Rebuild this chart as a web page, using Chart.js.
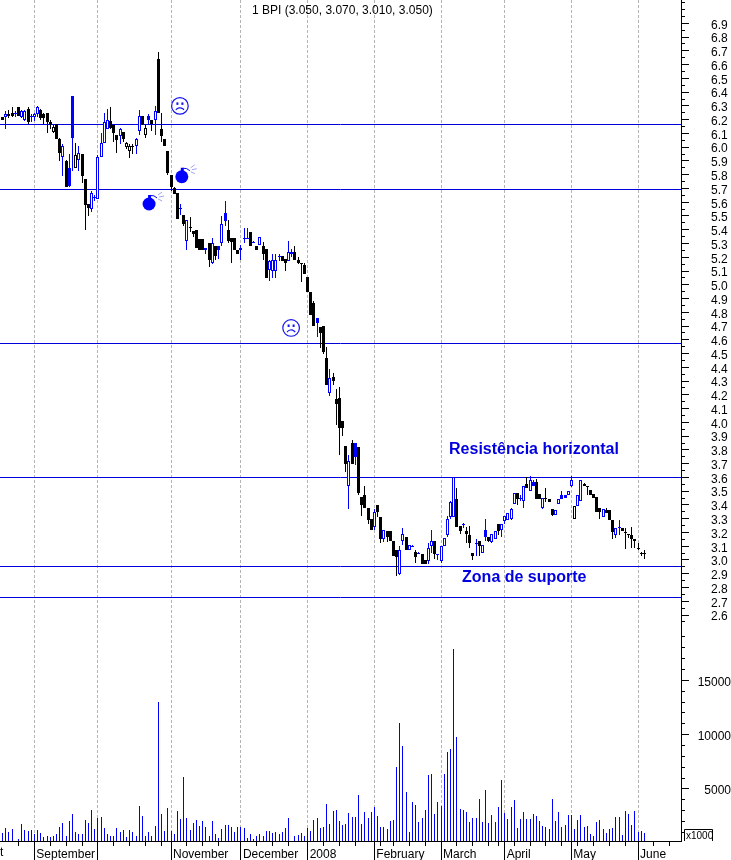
<!DOCTYPE html>
<html>
<head>
<meta charset="utf-8">
<title>BPI</title>
<script src="https://cdn.jsdelivr.net/npm/chart.js@4"></script>
<style>html,body{margin:0;padding:0;background:#fff}canvas{display:block}</style>
</head>
<body>
<canvas id="c" width="731" height="860"></canvas>
<script>
const titleText = '1 BPI (3.050, 3.070, 3.010, 3.050)';
const opens = [6.22,6.22,6.24,6.25,6.24,6.29,6.22,6.20,6.28,6.22,6.22,6.24,6.27,6.24,6.25,6.18,6.11,6.17,6.06,5.93,
5.90,5.85,6.37,5.85,5.91,5.95,5.77,5.59,5.55,5.63,5.62,5.93,6.03,6.13,6.19,6.16,6.09,6.08,6.11,6.00,
5.97,6.00,6.01,6.12,6.23,6.09,6.23,6.20,6.20,6.64,6.13,6.06,5.97,5.80,5.70,5.67,5.55,5.51,5.32,5.42,
5.39,5.40,5.33,5.33,5.25,5.30,5.16,5.28,5.28,5.30,5.52,5.40,5.34,5.34,5.25,5.25,5.33,5.34,5.38,5.31,
5.28,5.29,5.28,5.26,5.11,5.10,5.10,5.21,5.21,5.19,5.17,5.22,5.24,5.18,5.16,5.14,5.06,4.95,4.87,4.76,
4.69,4.70,4.47,4.21,4.33,4.17,4.18,4.01,3.83,3.54,3.85,3.85,3.82,3.46,3.47,3.38,3.30,3.24,3.40,3.31,
3.15,3.21,3.21,3.14,3.07,2.90,3.14,3.17,3.07,3.10,3.06,3.05,3.04,3.00,2.99,3.10,3.14,3.04,2.99,3.10,
3.18,3.31,3.31,3.44,3.25,3.26,3.21,3.18,3.05,3.12,3.14,3.05,3.22,3.17,3.13,3.15,3.26,3.22,3.28,3.29,
3.30,3.41,3.49,3.45,3.43,3.55,3.50,3.57,3.57,3.48,3.38,3.45,3.44,3.37,3.33,3.41,3.47,3.47,3.47,3.54,
3.30,3.39,3.43,3.55,3.54,3.51,3.48,3.46,3.38,3.31,3.36,3.36,3.29,3.18,3.24,3.23,3.20,3.19,3.18,3.15,
3.09,3.05,3.05];
const highs = [6.22,6.26,6.27,6.29,6.26,6.29,6.27,6.27,6.29,6.24,6.25,6.30,6.28,6.25,6.25,6.20,6.16,6.17,6.07,6.02,
5.91,5.95,6.37,6.03,6.01,5.95,5.77,5.59,5.68,5.65,5.94,6.10,6.25,6.28,6.29,6.16,6.09,6.14,6.11,6.04,
6.02,6.02,6.07,6.27,6.23,6.17,6.24,6.20,6.30,6.69,6.25,6.06,5.97,5.80,5.71,5.67,5.59,5.51,5.47,5.49,
5.39,5.40,5.33,5.33,5.27,5.30,5.34,5.28,5.28,5.50,5.61,5.47,5.34,5.34,5.25,5.29,5.41,5.41,5.38,5.32,
5.28,5.35,5.31,5.26,5.18,5.22,5.22,5.22,5.21,5.19,5.32,5.26,5.28,5.20,5.16,5.16,5.06,4.95,4.88,4.76,
4.69,4.70,4.55,4.39,4.36,4.24,4.26,4.01,3.83,3.76,3.87,3.85,3.82,3.46,3.54,3.38,3.30,3.37,3.40,3.31,
3.22,3.21,3.21,3.14,3.07,3.10,3.23,3.17,3.11,3.11,3.07,3.06,3.04,3.00,3.12,3.22,3.14,3.04,3.10,3.16,
3.32,3.43,3.60,3.52,3.25,3.27,3.24,3.25,3.05,3.15,3.14,3.11,3.30,3.17,3.19,3.21,3.26,3.26,3.32,3.34,
3.38,3.49,3.49,3.47,3.54,3.60,3.61,3.58,3.59,3.48,3.45,3.52,3.44,3.37,3.36,3.44,3.50,3.47,3.50,3.61,
3.39,3.47,3.58,3.56,3.54,3.51,3.48,3.46,3.38,3.37,3.38,3.36,3.29,3.23,3.29,3.23,3.23,3.19,3.24,3.15,
3.12,3.06,3.07];
const lows = [6.20,6.13,6.21,6.22,6.22,6.23,6.21,6.19,6.17,6.18,6.19,6.22,6.20,6.17,6.10,6.13,6.10,6.06,5.90,5.79,
5.71,5.71,5.83,5.85,5.83,5.74,5.40,5.50,5.53,5.61,5.62,5.93,6.03,6.13,6.13,6.04,5.96,6.02,6.04,5.99,
5.92,5.95,5.95,6.09,6.16,6.07,6.17,6.12,6.09,6.25,6.04,6.01,5.80,5.68,5.66,5.48,5.51,5.43,5.25,5.38,
5.35,5.27,5.25,5.25,5.22,5.13,5.15,5.18,5.19,5.28,5.43,5.30,5.16,5.25,5.22,5.18,5.30,5.33,5.28,5.30,
5.25,5.29,5.18,5.05,5.03,5.05,5.05,5.17,5.17,5.10,5.17,5.20,5.18,5.15,5.02,5.08,4.95,4.78,4.70,4.62,
4.54,4.50,4.27,4.19,4.27,3.98,3.76,3.90,3.64,3.37,3.70,3.69,3.47,3.32,3.38,3.26,3.22,3.22,3.31,3.12,
3.13,3.13,3.14,3.03,2.88,2.89,3.11,3.07,3.07,3.10,2.98,3.04,2.97,2.97,2.97,3.05,3.01,3.00,2.98,3.10,
3.17,3.30,3.31,3.24,3.19,3.23,3.12,3.09,3.00,3.03,3.03,3.05,3.14,3.13,3.12,3.15,3.18,3.17,3.26,3.29,
3.29,3.41,3.40,3.43,3.38,3.52,3.50,3.54,3.44,3.44,3.37,3.42,3.42,3.32,3.33,3.41,3.44,3.45,3.47,3.53,
3.30,3.39,3.43,3.54,3.47,3.47,3.45,3.35,3.30,3.31,3.34,3.29,3.15,3.16,3.18,3.21,3.08,3.16,3.09,3.09,
3.07,3.03,3.01];
const closes = [6.20,6.24,6.23,6.23,6.25,6.23,6.26,6.26,6.18,6.23,6.24,6.29,6.21,6.21,6.18,6.17,6.15,6.06,5.96,6.01,
5.71,5.72,6.07,5.94,5.96,5.79,5.58,5.56,5.67,5.64,5.93,6.03,6.18,6.20,6.14,6.10,6.05,6.13,6.06,6.03,
6.01,6.01,6.06,6.23,6.17,6.14,6.20,6.17,6.26,6.25,6.08,6.01,5.81,5.71,5.66,5.48,5.56,5.44,5.47,5.41,
5.37,5.27,5.25,5.25,5.27,5.18,5.30,5.21,5.25,5.44,5.46,5.32,5.31,5.25,5.22,5.27,5.34,5.34,5.28,5.31,
5.25,5.35,5.22,5.05,5.17,5.18,5.18,5.21,5.17,5.16,5.24,5.24,5.18,5.16,5.15,5.08,4.95,4.78,4.70,4.72,
4.65,4.51,4.27,4.32,4.30,4.13,3.96,3.96,3.70,3.72,3.70,3.75,3.49,3.40,3.38,3.29,3.22,3.35,3.35,3.15,
3.22,3.17,3.14,3.03,3.02,3.07,3.19,3.07,3.11,3.10,3.02,3.05,2.97,2.97,3.09,3.14,3.04,3.04,3.10,3.16,
3.30,3.42,3.60,3.24,3.21,3.26,3.19,3.12,3.03,3.12,3.10,3.11,3.17,3.14,3.19,3.21,3.21,3.26,3.32,3.34,
3.37,3.49,3.44,3.45,3.54,3.52,3.58,3.54,3.44,3.44,3.45,3.44,3.42,3.33,3.36,3.44,3.44,3.45,3.50,3.58,
3.39,3.47,3.58,3.54,3.53,3.47,3.45,3.35,3.35,3.37,3.34,3.29,3.20,3.23,3.23,3.21,3.20,3.18,3.15,3.14,
3.08,3.05,3.05];
const upDays = [0,1,0,0,1,0,1,1,0,1,1,1,0,0,0,0,0,0,0,1,
0,1,1,0,1,0,0,0,1,1,1,1,1,1,0,0,0,1,0,0,
0,0,1,1,0,0,1,0,1,0,0,0,0,0,0,0,1,0,1,0,
0,0,0,0,1,0,1,0,1,1,1,0,0,0,0,1,1,1,0,1,
0,1,0,0,1,1,1,1,0,0,1,1,0,0,0,0,0,0,0,1,
0,0,0,1,0,0,0,0,0,1,0,1,0,0,0,0,0,1,0,0,
1,0,0,0,0,1,1,0,1,1,0,1,0,0,1,1,0,1,1,1,
1,1,1,0,0,1,0,0,0,1,0,1,1,0,1,1,0,1,1,1,
1,1,0,1,1,0,1,1,0,0,1,0,0,0,1,1,1,1,1,1,
0,1,1,0,0,0,0,0,0,1,0,0,0,1,1,0,0,0,0,0,
0,0,0];
const volumes = [930,1390,1020,1270,0,345,1730,1175,1080,1175,805,1175,930,560,620,560,650,805,1480,1820,
650,2035,2650,990,805,835,2130,1850,3020,1270,2310,2375,1360,805,650,650,1360,990,1175,530,
1175,990,650,3390,2465,650,990,650,1540,13000,2650,1080,3200,1080,805,2930,2190,6060,2280,1175,
1820,2100,1540,2005,1450,620,2005,805,435,1270,1635,1635,1450,990,1450,1450,1360,435,805,345,
620,805,620,1080,1080,900,990,805,990,1360,2280,0,620,715,900,620,1360,1080,2100,2280,
1360,1450,3570,1730,2930,3020,2005,1635,1730,2745,2375,2375,4400,1730,2835,
2310,2865,3360,2495,1480,1480,1300,2035,2130,7015,11075,8955,4710,1020,3790,3510,1945,2310,3050,6280,
6370,2680,3790,3420,6370,8400,8680,17900,9785,3140,3050,2865,1945,2310,2310,4065,1945,4895,1850,2590,
1945,3330,5820,2775,2220,3330,3975,1390,2220,2865,2220,2220,2680,2495,2035,1575,1480,1300,4065,2035,
2865,1480,1665,2590,2590,1300,2130,2590,1480,1575,835,650,1945,2130,1300,930,1300,1390,2405,2405,
745,2960,2680,1665,2960,1020,1115,930];

const slotCount = 214;
const monthTicks = [10,30,53,75,96,117,138,158,179,200];
const monthNames = ['September','','November','December','2008','February','March','April','May','June'];
const clippedLabel = 't';
const weekTicks = [5,15,20,25,35,40,45,50,58,63,68,80,85,90,101,106,111,119,123,128,133,143,148,153,156,161,166,171,176,181,186,191,196,205,210];
const priceLabels = [2.6,2.7,2.8,2.9,3.0,3.1,3.2,3.3,3.4,3.5,3.6,3.7,3.8,3.9,4.0,4.1,4.2,4.3,4.4,4.5,4.6,4.7,4.8,4.9,5.0,5.1,5.2,5.3,5.4,5.5,5.6,5.7,5.8,5.9,6.0,6.1,6.2,6.3,6.4,6.5,6.6,6.7,6.8,6.9];
const priceMinor = [2.55,2.65,2.75,2.85,2.95,3.05,3.15,3.25,3.35,3.45,3.55,3.65,3.75,3.85,3.95,4.05,4.15,4.25,4.35,4.45,4.55,4.65,4.75,4.85,4.95,5.05,5.15,5.25,5.35,5.45,5.55,5.65,5.75,5.85,5.95,6.05,6.15,6.25,6.35,6.45,6.55,6.65,6.75,6.85,6.95,7.0,7.05];
const volumeLabels = [5000,10000,15000];
const volumeMinor = [1000,2000,3000,4000,6000,7000,8000,9000,11000,12000,13000,14000,16000,17000,18000,19000];
const levels = [6.17,5.695,4.58,3.60,2.955,2.73];
const faces = [[55.8,6.30],[90.8,4.686]];
const bombs = [[56.4,5.785],[46.1,5.587]];
const notes = [['Resistência horizontal',3.80,140.5],['Zona de suporte',2.87,144.6]];

const BLUE = '#0000ff', BLACK = '#000000', LINE = '#0000dc', GRID = '#b4b4b4';
const FONT = "'Liberation Sans', Arial, sans-serif";
const labels = Array.from({length: slotCount}, (_, i) => {
  const m = monthTicks.indexOf(i);
  return m >= 0 ? monthNames[m] : '';
});
const candleColor = upDays.map(u => u ? BLUE : BLACK);
const bodyFill = closes.map((c, i) => c > opens[i] ? '#ffffff' : candleColor[i]);

const snapBars = {
  id: 'snapBars',
  afterDatasetsUpdate(chart) {
    chart.data.datasets.forEach((ds, d) => {
      chart.getDatasetMeta(d).data.forEach(el => {
        el.x = Math.floor(el.x) + 0.5;
        el.y = Math.round(el.y);
        el.base = Math.round(el.base);
        if (ds.label === 'Body' && el.y === el.base) el.base = el.y + 1;
      });
    });
  }
};

const decorations = {
  id: 'decorations',
  beforeDatasetsDraw(chart) {
    const {ctx, chartArea: a, scales: {x, y, v}} = chart;
    ctx.save();
    ctx.strokeStyle = LINE;
    ctx.lineWidth = 1;
    levels.forEach(l => {
      const py = Math.round(y.getPixelForValue(l)) + 0.5;
      ctx.beginPath(); ctx.moveTo(0, py); ctx.lineTo(a.right, py); ctx.stroke();
    });
    ctx.restore();
  },
  afterDatasetsDraw(chart) {
    const {ctx, chartArea: a, scales: {x, y, v}} = chart;
    ctx.save();
    ctx.strokeStyle = BLACK;
    ctx.lineWidth = 1;
    const hTick = (sc, val) => {
      const py = Math.floor(sc.getPixelForValue(val)) + 0.5;
      ctx.beginPath(); ctx.moveTo(a.right, py); ctx.lineTo(a.right + 4, py); ctx.stroke();
    };
    priceMinor.forEach(p => hTick(y, p));
    volumeMinor.forEach(p => hTick(v, p));
    monthTicks.forEach(i => {
      const px = Math.floor(x.getPixelForValue(i)) + 0.5;
      ctx.beginPath(); ctx.moveTo(px, a.bottom); ctx.lineTo(px, 860); ctx.stroke();
    });
    ctx.beginPath(); ctx.moveTo(0, a.bottom + 0.5); ctx.lineTo(a.left + 1, a.bottom + 0.5); ctx.stroke();
    // volume multiplier box
    ctx.beginPath();
    ctx.moveTo(684.5, a.bottom); ctx.lineTo(684.5, 829.5); ctx.lineTo(712.5, 829.5); ctx.lineTo(712.5, a.bottom);
    ctx.stroke();
    ctx.fillStyle = BLACK;
    ctx.textBaseline = 'middle';
    ctx.textAlign = 'left';
    ctx.font = '10px ' + FONT;
    ctx.fillText('x1000', 686, 836);
    ctx.font = '12px ' + FONT;
    ctx.fillText(clippedLabel, 0, 853);
    ctx.fillText(titleText, 252, 11);
    // notes
    ctx.fillStyle = '#0000e0';
    ctx.font = 'bold 16px ' + FONT;
    notes.forEach(n => ctx.fillText(n[0], x.getPixelForValue(n[2]), y.getPixelForValue(n[1])));
    // frowning faces
    ctx.strokeStyle = '#1414f0';
    ctx.fillStyle = '#1414f0';
    ctx.lineWidth = 1.2;
    faces.forEach(f => {
      const cx = x.getPixelForValue(f[0]), cy = y.getPixelForValue(f[1]);
      ctx.beginPath(); ctx.arc(cx, cy, 8.3, 0, Math.PI * 2); ctx.stroke();
      ctx.fillRect(cx - 3.5, cy - 3.5, 2, 2.5);
      ctx.fillRect(cx + 1.5, cy - 3.5, 2, 2.5);
      ctx.beginPath(); ctx.arc(cx, cy + 7, 5, Math.PI * 1.2, Math.PI * 1.8); ctx.stroke();
    });
    // bombs
    bombs.forEach(b => {
      const cx = x.getPixelForValue(b[0]), cy = y.getPixelForValue(b[1]);
      ctx.fillStyle = '#0000ff';
      ctx.strokeStyle = '#0000ff';
      ctx.lineWidth = 1;
      ctx.beginPath(); ctx.arc(cx, cy, 6.5, 0, Math.PI * 2); ctx.fill();
      ctx.fillRect(cx - 1, cy - 9, 3, 4);
      ctx.beginPath(); ctx.moveTo(cx + 1.5, cy - 8.5); ctx.quadraticCurveTo(cx + 5, cy - 9, cx + 8, cy - 6); ctx.stroke();
      ctx.strokeStyle = '#a0a0ff';
      [[9, -9, 13, -12], [10, -7, 15, -8], [9, -5, 13, -3]].forEach(s => {
        ctx.beginPath(); ctx.moveTo(cx + s[0], cy + s[1]); ctx.lineTo(cx + s[2], cy + s[3]); ctx.stroke();
      });
    });
    ctx.restore();
  }
};

const tickFont = {family: FONT, size: 12};
const noEdgePadding = s => { s.paddingTop = 0; s.paddingBottom = 0; s.paddingLeft = 0; s.paddingRight = 0; };
new Chart(document.getElementById('c'), {
  type: 'bar',
  plugins: [snapBars, decorations],
  data: {
    labels,
    datasets: [
      {label: 'Volume', yAxisID: 'v', data: volumes, barThickness: 1, backgroundColor: BLUE, borderWidth: 0, inflateAmount: 0, grouped: false, order: 3},
      {label: 'Range', yAxisID: 'y', data: lows.map((l, i) => [l, highs[i]]), barThickness: 1, backgroundColor: candleColor, borderWidth: 0, inflateAmount: 0, grouped: false, order: 2},
      {label: 'Body', yAxisID: 'y', data: opens.map((o, i) => [o, closes[i]]), barThickness: 3, backgroundColor: bodyFill, borderColor: candleColor, borderWidth: 1, borderSkipped: false, inflateAmount: 0, grouped: false, order: 1}
    ]
  },
  options: {
    responsive: false,
    animation: false,
    layout: {padding: {left: 1, right: 0, top: 0, bottom: 0}, autoPadding: false},
    plugins: {legend: {display: false}, tooltip: {enabled: false}, title: {display: false}},
    scales: {
      x: {
        type: 'category',
        offset: true,
        border: {color: BLACK, width: 1, dash: [3, 2]},
        grid: {
          offset: false,
          tickLength: 5,
          lineWidth: 1,
          color: c => monthTicks.includes(c.index) ? GRID : 'rgba(0,0,0,0)',
          tickColor: c => weekTicks.includes(c.index) ? BLACK : 'rgba(0,0,0,0)'
        },
        ticks: {
          autoSkip: false, maxRotation: 0, minRotation: 0, align: 'start', padding: 1, labelOffset: 2,
          color: BLACK, font: tickFont,
          callback: (val, i) => labels[i]
        },
        afterFit: s => { noEdgePadding(s); s.height = 19; }
      },
      y: {
        position: 'right', stack: 'r', stackWeight: 630, weight: 0,
        min: 2.491, max: 7.0695,
        border: {color: BLACK, width: 1},
        grid: {drawOnChartArea: false, tickLength: 8, tickColor: BLACK},
        afterBuildTicks: s => { s.ticks = priceLabels.map(value => ({value})); },
        ticks: {autoSkip: false, padding: 22, labelOffset: 2, color: BLACK, font: tickFont, callback: val => Number(val).toFixed(1)},
        afterFit: s => { noEdgePadding(s); s.width = 50; }
      },
      v: {
        position: 'right', stack: 'r', stackWeight: 211, weight: 1,
        min: 200, max: 19640,
        border: {color: BLACK, width: 1},
        grid: {drawOnChartArea: false, tickLength: 8, tickColor: BLACK},
        afterBuildTicks: s => { s.ticks = volumeLabels.map(value => ({value})); },
        ticks: {autoSkip: false, padding: 4, labelOffset: 2, crossAlign: 'far', color: BLACK, font: tickFont, callback: val => String(val)},
        afterFit: s => { noEdgePadding(s); s.width = 50; }
      }
    }
  }
});
</script>
</body>
</html>
